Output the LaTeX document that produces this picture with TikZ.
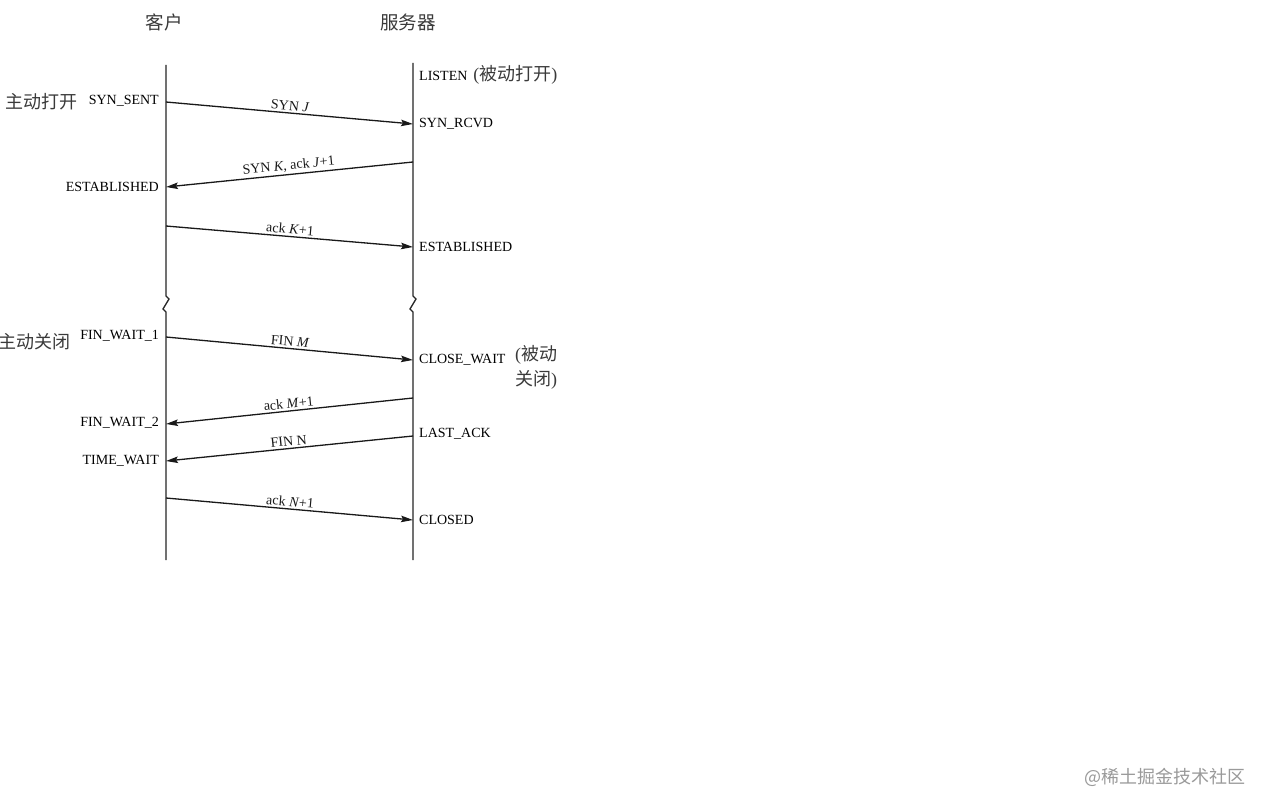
\documentclass[tikz,border=0pt]{standalone}
\usepackage{fontspec}
\setmainfont{Liberation Serif}
\newfontfamily\cjk{Noto Sans CJK SC}
\usetikzlibrary{arrows.meta}
\definecolor{cjkgray}{HTML}{3A3A3A}
\definecolor{wmgray}{HTML}{9A9A9A}
\begin{document}
\begin{tikzpicture}[x=1pt,y=-1pt,
  life/.style={line width=1.3pt, black!85},
  msg/.style={line width=1.3pt, black!90, -{Stealth[length=12pt,width=6.5pt,inset=2pt]}},
  lstate/.style={font=\fontsize{14}{16}\selectfont, inner sep=1pt, anchor=east},
  rstate/.style={font=\fontsize{14}{16}\selectfont, inner sep=1pt, anchor=west},
  lbl/.style={font=\fontsize{14}{16}\selectfont, inner sep=2pt, sloped, above},
  zh/.style={font=\cjk\fontsize{18}{22}\selectfont, text=cjkgray, inner sep=1pt},
]
\useasboundingbox (0,0) rectangle (1268,810);
\fill[white] (0,0) rectangle (1268,810);

% headers
\node[zh, font=\cjk\fontsize{18.5}{22}\selectfont] (hc) at (164,22) {客户};
\node[zh, font=\cjk\fontsize{18.5}{22}\selectfont] (hs) at (408,22) {服务器};

% lifelines
\coordinate (ctop) at (166,65);
\coordinate (cbot) at (166,560);
\coordinate (stop) at (413,63);
\coordinate (sbot) at (413,560);
\draw[life] (ctop) -- (166,296) -- (169,299) -- (163,309) -- (166,312) -- (cbot);
\draw[life] (stop) -- (413,296) -- (416,299) -- (410,309) -- (413,312) -- (sbot);

% connector end points
\coordinate (c1) at (166,102);  \coordinate (s1) at (413,124);
\coordinate (s2) at (413,162);  \coordinate (c2) at (166,187);
\coordinate (c3) at (166,226);  \coordinate (s3) at (413,247);
\coordinate (c4) at (166,337);  \coordinate (s4) at (413,360);
\coordinate (s5) at (413,398);  \coordinate (c5) at (166,424);
\coordinate (s6) at (413,436);  \coordinate (c6) at (166,461);
\coordinate (c7) at (166,498);  \coordinate (s7) at (413,520);

% messages
\draw[msg] (c1) -- node[lbl] (m1) {SYN \textit{J}} (s1);
\draw[msg] (s2) -- node[lbl] (m2) {SYN \textit{K}, ack \textit{J}+1} (c2);
\draw[msg] (c3) -- node[lbl] (m3) {ack \textit{K}+1} (s3);
\draw[msg] (c4) -- node[lbl] (m4) {FIN \textit{M}} (s4);
\draw[msg] (s5) -- node[lbl] (m5) {ack \textit{M}+1} (c5);
\draw[msg] (s6) -- node[lbl] (m6) {FIN N} (c6);
\draw[msg] (c7) -- node[lbl] (m7) {ack \textit{N}+1} (s7);

% client states
\node[lstate] (st1) at (160,101) {SYN\_SENT};
\node[zh, anchor=east] (open) at (79,102) {主动打开};
\node[lstate] (st2) at (160,187) {ESTABLISHED};
\node[lstate] (st3) at (160,336) {FIN\_WAIT\_1};
\node[zh, anchor=east] (close) at (72,342) {主动关闭};
\node[lstate] (st4) at (160,423) {FIN\_WAIT\_2};
\node[lstate] (st5) at (160,461) {TIME\_WAIT};

% server states
\node[rstate] (sv0) at (418,75) {LISTEN\hspace{6pt}{\fontsize{18}{22}\selectfont\color{cjkgray}({\cjk 被动打开})}};
\node[rstate] (sv1) at (418,124) {SYN\_RCVD};
\node[rstate] (sv2) at (418,247) {ESTABLISHED};
\node[rstate] (sv3) at (418,360) {CLOSE\_WAIT};
\node[anchor=north west, inner sep=1pt, align=left, text=cjkgray,
      font=\fontsize{18}{25}\selectfont] (passclose) at (514,344) {({\cjk 被动}\\{\cjk 关闭})};
\node[rstate] (sv4) at (418,434) {LAST\_ACK};
\node[rstate] (sv5) at (418,520) {CLOSED};

% watermark
\node[anchor=east, inner sep=0pt, text=wmgray, font=\cjk\fontsize{18}{22}\selectfont] (wm) at (1246,777) {@稀土掘金技术社区};
\end{tikzpicture}
\end{document}
